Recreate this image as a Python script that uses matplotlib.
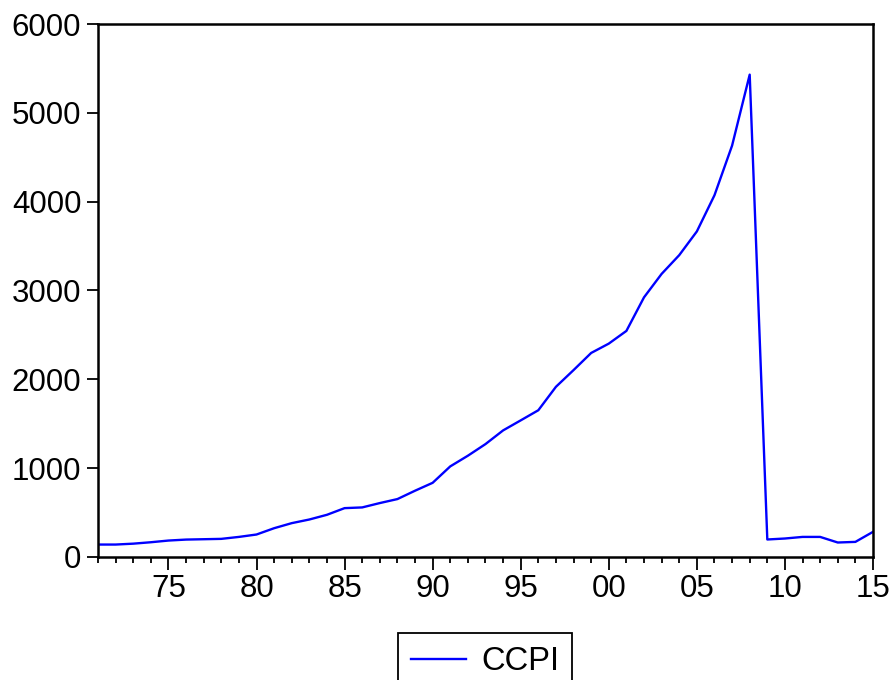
import numpy as np
import matplotlib.pyplot as plt
from matplotlib.ticker import FixedLocator, FuncFormatter

plt.rcParams['font.family'] = ['Liberation Sans', 'DejaVu Sans']

# datos
years = list(range(1971, 2016))
ccpi = [140, 140, 150, 166, 185, 196, 200, 204, 226, 253,
        324, 381, 422, 475, 550, 558, 607, 652, 746, 835,
        1020, 1140, 1271, 1425, 1538, 1652, 1916, 2104, 2297, 2402,
        2545, 2923, 3187, 3398, 3665, 4072, 4631, 5430, 197, 208,
        226, 226, 163, 170, 283]

major_years = list(range(1975, 2016, 5))

fig = plt.figure(figsize=(8.94, 6.8), dpi=100)
ax = fig.add_axes([0.1096, 0.1809, 0.8669, 0.7838])

ax.plot(years, ccpi, color=(0, 0, 1), lw=1.7, label='CCPI')

ax.set_xlim(1971, 2015)
ax.set_ylim(0, 6000)
ax.set_yticks([0, 1000, 2000, 3000, 4000, 5000, 6000])
ax.xaxis.set_major_locator(FixedLocator(major_years))
ax.xaxis.set_minor_locator(FixedLocator(years))
ax.xaxis.set_major_formatter(FuncFormatter(lambda v, p: '%02d' % (int(round(v)) % 100)))

for s in ax.spines.values():
    s.set_linewidth(1.8)
    s.set_color('black')

ax.tick_params(axis='y', direction='out', length=8, width=1.3, labelsize=22.5, pad=4)
ax.tick_params(axis='x', which='major', direction='out', length=9, width=1.3, labelsize=22.5, pad=3)
ax.tick_params(axis='x', which='minor', direction='out', length=4.5, width=1.3)

leg = fig.legend(loc='upper center', bbox_to_anchor=(485 / 894, 1 - 633 / 680),
                 fontsize=23.5, fancybox=False, edgecolor='black', framealpha=1,
                 handlelength=1.7, handletextpad=0.45, borderpad=0.4,
                 borderaxespad=0)
leg.get_frame().set_linewidth(1.3)

fig.savefig('out.png', dpi=100)
